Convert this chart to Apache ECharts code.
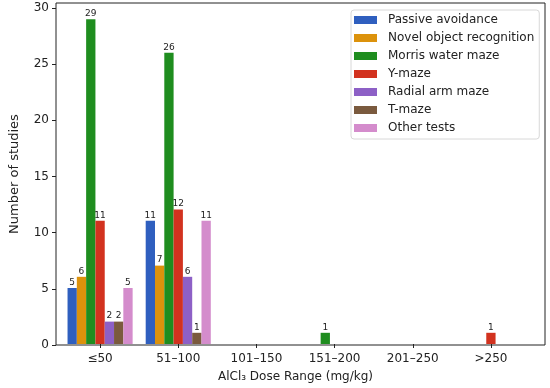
<!DOCTYPE html>
<html>
<head>
<meta charset="utf-8">
<script src="https://cdn.jsdelivr.net/npm/echarts@6/dist/echarts.min.js"></script>
<style>
html, body { margin: 0; padding: 0; background: #fff; }
#chart { width: 550px; height: 388px; }
</style>
</head>
<body>
<div id="chart"></div>
<script>
// dose ranges (x categories)
var categories = ['≤50', '51–100', '101–150', '151–200', '201–250', '>250'];
var yTicks = [0, 5, 10, 15, 20, 25, 30];
var yMax = 30.45;

// number of studies per test
var passiveAvoidance = [5, 11, 0, 0, 0, 0];
var novelObject = [6, 7, 0, 0, 0, 0];
var morrisWaterMaze = [29, 26, 0, 1, 0, 0];
var yMaze = [11, 12, 0, 0, 0, 1];
var radialArmMaze = [2, 6, 0, 0, 0, 0];
var tMaze = [2, 1, 0, 0, 0, 0];
var otherTests = [5, 11, 0, 0, 0, 0];

var seriesNames = ['Passive avoidance', 'Novel object recognition', 'Morris water maze',
	'Y-maze', 'Radial arm maze', 'T-maze', 'Other tests'];
var seriesData = [passiveAvoidance, novelObject, morrisWaterMaze, yMaze, radialArmMaze, tMaze, otherTests];
var colors = ['#2f5fbf', '#dc920c', '#1f8d1f', '#d2321f', '#8d60c6', '#7a5a3e', '#d48ccc'];

var font = 'DejaVu Sans';
var ink = '#222';

var myChart = echarts.init(document.getElementById('chart'));

var series = [];
for (var i = 0; i < seriesNames.length; i++) {
	series.push({
		name: seriesNames[i],
		type: 'bar',
		xAxisIndex: 1,
		yAxisIndex: 1,
		data: seriesData[i],
		barWidth: 9.3,
		barGap: '0%',
		itemStyle: { color: colors[i] },
		label: {
			show: true,
			position: 'top',
			distance: 1,
			fontSize: 9,
			fontFamily: font,
			color: ink,
			formatter: function(p) { return p.value === 0 ? '' : p.value; }
		}
	});
}

var option = {
	animation: false,
	backgroundColor: '#fff',
	color: colors,
	grid: [
		// frame + y axis
		{ left: 48, right: 5, top: 3, bottom: 43, show: true, borderColor: ink, borderWidth: 1, backgroundColor: 'transparent' },
		// bars
		{ left: 61, right: 20, top: 3, bottom: 43 }
	],
	legend: {
		orient: 'vertical',
		left: 351,
		top: 10,
		padding: [4, 5, 5, 3],
		itemWidth: 23,
		itemHeight: 8,
		itemGap: 6,
		icon: 'rect',
		backgroundColor: '#fff',
		borderColor: '#d8d8d8',
		borderWidth: 1,
		borderRadius: 3,
		textStyle: { fontSize: 12, fontFamily: font, color: ink, padding: [0, 0, 0, 6] },
		data: seriesNames
	},
	xAxis: [
		{ gridIndex: 0, type: 'value', min: 0, max: 1, show: false },
		{
			gridIndex: 1,
			type: 'category',
			data: categories,
			axisLine: { show: false },
			axisTick: { show: true, alignWithLabel: true, length: 4, lineStyle: { color: ink } },
			axisLabel: { fontSize: 12, fontFamily: font, color: ink, margin: 9 },
			name: 'AlCl₃ Dose Range (mg/kg)',
			nameLocation: 'middle',
			nameGap: 27,
			nameTextStyle: { fontSize: 12, fontFamily: font, color: ink }
		}
	],
	yAxis: [
		{
			gridIndex: 0,
			type: 'value',
			min: 0,
			max: yMax,
			splitLine: { show: false },
			axisLine: { show: false },
			axisTick: { show: true, length: 4, lineStyle: { color: ink }, customValues: yTicks },
			axisLabel: { fontSize: 12, fontFamily: font, color: ink, margin: 7, customValues: yTicks },
			name: 'Number of studies',
			nameLocation: 'middle',
			nameGap: 35,
			nameTextStyle: { fontSize: 13, fontFamily: font, color: ink }
		},
		{ gridIndex: 1, type: 'value', min: 0, max: yMax, show: false, splitLine: { show: false } }
	],
	series: series
};

myChart.setOption(option);
</script>
</body>
</html>
